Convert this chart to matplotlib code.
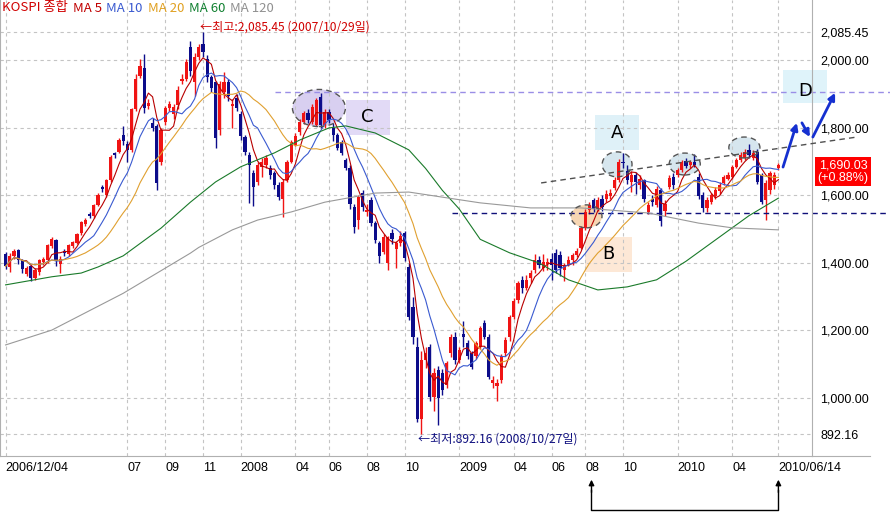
import numpy as np
import pandas as pd
import matplotlib
matplotlib.use('Agg')
import matplotlib.pyplot as plt
from matplotlib.patches import Ellipse, Rectangle

# weekly KOSPI candles, 2006/12/04 .. 2010/06/14
dates = pd.date_range('2006-12-04', periods=185, freq='W-MON')

opens = [1425,1388,1420,1438,1408,1368,1390,1355,1372,1402,
         1408,1450,1468,1398,1434,1425,1450,1458,1488,1515,
         1545,1538,1572,1625,1600,1645,1725,1730,1780,1752,
         1735,1855,1955,1978,1866,1815,1805,1700,1818,1858,
         1840,1868,1938,1945,2040,1935,2010,2050,2005,1950,
         1935,1795,1905,1935,1865,1889,1840,1773,1720,1667,
         1640,1685,1690,1680,1665,1630,1590,1646,1699,1750,
         1788,1818,1845,1818,1810,1892,1809,1847,1800,1779,
         1758,1705,1681,1565,1527,1607,1550,1587,1518,1459,
         1432,1400,1490,1440,1458,1488,1389,1270,1150,938,
         1113,1152,1004,1083,1073,1039,1133,1182,1113,1190,
         1162,1133,1123,1152,1221,1182,1044,1034,1054,1133,
         1182,1241,1290,1350,1325,1355,1380,1409,1385,1398,
         1412,1429,1424,1380,1395,1409,1424,1444,1503,1557,
         1586,1560,1590,1590,1598,1622,1646,1700,1672,1640,
         1660,1630,1646,1552,1590,1572,1617,1555,1626,1655,
         1661,1675,1702,1690,1700,1656,1601,1562,1580,1597,
         1612,1636,1650,1656,1685,1705,1712,1735,1712,1730,
         1661,1587,1617,1630,1680]
highs = [1432,1428,1442,1440,1412,1392,1395,1386,1412,1418,
         1456,1478,1472,1420,1440,1456,1466,1490,1524,1534,
         1550,1576,1606,1630,1650,1720,1730,1770,1805,1760,
         1860,1960,2005,2020,1885,1830,1812,1800,1866,1880,
         1870,1925,1960,2005,2058,2022,2050,2085.45,2015,1958,
         1940,1940,1965,1945,1885,1900,1850,1780,1730,1675,
         1700,1710,1720,1690,1672,1640,1648,1705,1765,1785,
         1825,1850,1855,1870,1890,1904,1855,1855,1815,1785,
         1765,1712,1690,1575,1600,1615,1575,1595,1525,1465,
         1485,1480,1500,1465,1495,1495,1400,1300,1180,1140,
         1150,1160,1090,1095,1085,1110,1190,1195,1152,1228,
         1172,1140,1170,1212,1230,1190,1065,1055,1130,1180,
         1245,1295,1345,1360,1365,1380,1425,1420,1425,1415,
         1430,1440,1435,1400,1420,1430,1445,1508,1560,1580,
         1592,1595,1600,1615,1620,1655,1708,1725,1690,1672,
         1668,1660,1650,1580,1600,1628,1622,1585,1660,1665,
         1682,1705,1712,1705,1722,1665,1610,1595,1606,1625,
         1640,1662,1668,1690,1712,1728,1738,1752,1735,1738,
         1665,1645,1672,1670,1695]
lows = [1382,1372,1412,1398,1370,1360,1345,1348,1365,1395,
        1400,1444,1390,1370,1420,1420,1445,1455,1484,1510,
        1532,1534,1568,1610,1594,1640,1710,1725,1750,1700,
        1728,1850,1948,1845,1855,1790,1615,1690,1810,1850,
        1825,1855,1930,1940,1955,1895,2000,2010,1935,1905,
        1741,1780,1890,1880,1800,1850,1765,1720,1578,1568,
        1630,1655,1680,1650,1620,1585,1535,1640,1695,1745,
        1780,1812,1815,1812,1805,1800,1800,1815,1760,1735,
        1720,1675,1560,1489,1500,1555,1540,1510,1460,1400,
        1425,1380,1455,1385,1450,1405,1230,1160,930,892.16,
        1090,990,960,919,1010,1030,1120,1100,1105,1150,
        1115,1085,1115,1145,1175,1055,1030,992,1045,1125,
        1170,1235,1280,1310,1320,1340,1370,1385,1375,1380,
        1350,1370,1360,1345,1390,1395,1418,1440,1498,1545,
        1550,1555,1555,1580,1590,1615,1640,1680,1635,1610,
        1605,1620,1580,1545,1570,1565,1510,1540,1620,1620,
        1655,1668,1680,1682,1685,1590,1552,1550,1575,1590,
        1605,1630,1645,1650,1680,1700,1705,1712,1705,1635,
        1575,1528,1605,1620,1675]
closes = [1390,1420,1436,1408,1383,1385,1355,1380,1408,1412,
          1452,1470,1405,1412,1430,1452,1462,1485,1520,1528,
          1540,1572,1600,1618,1645,1715,1720,1765,1760,1735,
          1855,1945,1982,1860,1874,1800,1638,1795,1860,1872,
          1862,1912,1945,1995,1968,2010,2040,2025,1950,1918,
          1770,1930,1935,1895,1872,1859,1775,1729,1690,1625,
          1690,1700,1712,1660,1630,1595,1640,1699,1758,1775,
          1818,1844,1822,1862,1883,1809,1847,1823,1779,1741,
          1726,1681,1575,1505,1596,1566,1558,1518,1468,1420,
          1477,1477,1470,1458,1480,1414,1241,1180,938,1113,
          1133,1004,1073,1000,1024,1103,1182,1113,1143,1182,
          1123,1093,1162,1206,1182,1063,1054,1044,1123,1172,
          1241,1286,1340,1325,1350,1370,1409,1395,1404,1402,
          1395,1380,1385,1395,1409,1424,1434,1503,1552,1572,
          1560,1586,1565,1605,1606,1646,1700,1695,1645,1660,
          1640,1650,1590,1572,1580,1620,1525,1575,1651,1630,
          1675,1700,1688,1698,1690,1597,1562,1586,1600,1617,
          1631,1656,1660,1685,1705,1720,1730,1720,1725,1641,
          1582,1636,1666,1660,1690.03]

# long averages (week index, value)
ma60_weeks = [0, 11, 18, 22, 28, 37, 44, 50, 56, 64, 70, 77, 81, 88, 96, 100, 104, 108,
              113, 120, 127, 134, 141, 148, 155, 162, 170, 177, 184]
ma60_vals = [1335, 1359, 1370, 1388, 1421, 1503, 1580, 1640, 1685, 1726, 1764, 1800, 1806,
             1785, 1735, 1680, 1615, 1560, 1470, 1430, 1400, 1350, 1320, 1329, 1350, 1405,
             1477, 1540, 1592]
ma120_weeks = [0, 11, 28, 44, 46, 54, 60, 68, 76, 88, 96, 105, 113, 125, 137, 153, 165, 173, 184]
ma120_vals = [1157, 1201, 1310, 1429, 1446, 1498, 1527, 1551, 1580, 1607, 1610, 1593, 1578,
              1563, 1563, 1548, 1518, 1504, 1498]

ytick_vals = [892.16, 1000, 1200, 1400, 1600, 1800, 2000, 2085.45]
month_ticks = [('07', '2007-07-01'), ('09', '2007-09-01'), ('11', '2007-11-01'),
               ('2008', '2008-01-01'), ('04', '2008-04-01'), ('06', '2008-06-01'),
               ('08', '2008-08-01'), ('10', '2008-10-01'), ('2009', '2009-01-01'),
               ('04', '2009-04-01'), ('06', '2009-06-01'), ('08', '2009-08-01'),
               ('10', '2009-10-01'), ('2010', '2010-01-01'), ('04', '2010-04-01')]

NUM_FONT = ['Liberation Sans', 'DejaVu Sans']
KR_FONT = ['Noto Sans CJK KR', 'DejaVu Sans']

o = np.array(opens, float)
h = np.array(highs, float)
l = np.array(lows, float)
c = np.array(closes, float)
x = np.arange(len(c))

s = pd.Series(c)
ma5 = s.rolling(5, min_periods=1).mean()
ma10 = s.rolling(10, min_periods=1).mean()
ma20 = s.rolling(20, min_periods=1).mean()

fig = plt.figure(figsize=(8.9, 5.16), dpi=100)
ax = fig.add_axes([0, 60 / 516, 812 / 890, 456 / 516])

col = np.where(c >= o, '#f01414', '#0c0c8a')
ax.vlines(x, l, h, colors=col, lw=1, zorder=2)
ax.bar(x, np.maximum(np.abs(c - o), 2.5), bottom=np.minimum(o, c), width=0.8,
       color=col, linewidth=0, zorder=2)

ax.plot(x, ma5, color='#b80000', lw=0.8, zorder=3)
ax.plot(x, ma10, color='#3a5ad0', lw=0.8, zorder=3)
ax.plot(x, ma20, color='#e0a030', lw=0.8, zorder=3)
ax.plot(ma60_weeks, ma60_vals, color='#1a7a2a', lw=0.8, zorder=3)
ax.plot(ma120_weeks, ma120_vals, color='#999999', lw=0.8, zorder=3)

ax.set_xlim(-1.33, 192)
ax.set_ylim(828, 2179)

# axes / ticks
tick_pos = [0] + [int(np.searchsorted(dates, pd.Timestamp(d), side='right') - 1)
                  for _, d in month_ticks] + [len(c) - 1]
tick_lab = ['2006/12/04'] + [t for t, _ in month_ticks] + ['2010/06/14']
ax.set_xticks(tick_pos)
ax.set_xticklabels(tick_lab, fontfamily=NUM_FONT, fontsize=9)
for lb in ax.get_xticklabels():
    lb.set_ha('left')
ax.tick_params(axis='x', length=0, pad=4)

ax.yaxis.tick_right()
ax.set_yticks(ytick_vals)
ax.set_yticklabels([f'{v:,.2f}' for v in ytick_vals], fontfamily=NUM_FONT, fontsize=9)
ax.tick_params(axis='y', length=0, pad=6)

ax.grid(True, ls=(0, (3, 3)), color='#c4c4c4', lw=0.8, zorder=0)
ax.spines['top'].set_visible(False)
for sp in ['left', 'right', 'bottom']:
    ax.spines[sp].set_color('#b0b0b0')
ax.plot([192, 205.8], [828, 828], color='#b0b0b0', lw=0.8, clip_on=False)

# legend text
t = ax.text(2 / 812, 1 - 8 / 456, 'KOSPI 종합', color='#d00000', transform=ax.transAxes,
            va='center', ha='left', fontsize=9.5, fontfamily=KR_FONT)
for txt, cc in [('MA 5', '#c00000'), ('MA 10', '#3a5ad0'), ('MA 20', '#e0a020'),
                ('MA 60', '#108030'), ('MA 120', '#909090')]:
    t = ax.annotate(txt, xy=(1, 0.5), xycoords=t, xytext=(3.5, 0), textcoords='offset points',
                    va='center', ha='left', color=cc, fontsize=9.5, fontfamily=KR_FONT)

# high / low marks
i_hi = int(np.argmax(h))
i_lo = int(np.argmin(l))
ax.text(i_hi - 0.7, h[i_hi] + 14, f'←최고:{h[i_hi]:,.2f} ({dates[i_hi]:%Y/%m/%d}일)',
        color='#d00000', fontsize=8.7, fontfamily=KR_FONT, va='center', ha='left')
ax.text(i_lo - 0.7, l[i_lo] - 13, f'←최저:{l[i_lo]:,.2f} ({dates[i_lo]:%Y/%m/%d}일)',
        color='#101080', fontsize=8.7, fontfamily=KR_FONT, va='center', ha='left')

# last price box
ax.text(199.4, 1671, f'{c[-1]:,.2f}\n(+0.88%)', color='white', ha='center', va='center',
        fontsize=9, fontfamily=NUM_FONT, linespacing=1.05,
        bbox=dict(fc='#ff0000', ec='none', pad=1.5), clip_on=False)

# pattern marks
ax.add_patch(Rectangle((81, 1779), 10.5, 104, fc='#e2daf6', ec='none', zorder=0.5))
ax.text(86.2, 1831, 'C', fontsize=13, ha='center', va='center', zorder=4)
ax.add_patch(Rectangle((140.3, 1735), 10.5, 103, fc='#dff1f8', ec='none', zorder=0.5))
ax.text(145.5, 1786, 'A', fontsize=13, ha='center', va='center', zorder=4)
ax.add_patch(Rectangle((138, 1373), 11.1, 104, fc='#fde8d6', ec='none', zorder=0.5))
ax.text(143.5, 1425, 'B', fontsize=13, ha='center', va='center', zorder=4)
ax.add_patch(Rectangle((185.1, 1874), 10.5, 98, fc='#dff3fa', ec='none', zorder=0.5,
                       clip_on=False))
ax.text(190.3, 1910, 'D', fontsize=13, ha='center', va='center', zorder=4, clip_on=False)

for (cx, cy, w, hh, fc) in [(74.6, 1859, 12.6, 110, '#d8cff0'),
                            (145.6, 1692, 7.1, 74, '#d6e6ee'),
                            (161.7, 1693, 7.4, 65, '#d6e6ee'),
                            (175.9, 1742, 7.4, 62, '#d6e6ee'),
                            (138.3, 1538, 7.4, 68, '#f7d6b3')]:
    ax.add_patch(Ellipse((cx, cy), w, hh, fc=fc, ec='none', zorder=1))
    ax.add_patch(Ellipse((cx, cy), w, hh, fill=False, ec='#555555', ls=(0, (4, 3)),
                         lw=1, zorder=3.5))

ax.plot([64.1, 210.6], [1907, 1907], color='#9a8ee6', lw=1, ls=(0, (4, 3)), clip_on=False)
ax.plot([106.3, 210.6], [1548, 1548], color='#10107a', lw=1, ls=(0, (4, 3)), clip_on=False)
ax.plot([127.5, 202.7], [1637, 1773], color='#505050', lw=1, ls=(0, (4, 3)), clip_on=False,
        zorder=3.6)

for st, en in [((185.1, 1684), (188.4, 1815)), ((189.6, 1815), (191.5, 1773)),
               ((192.2, 1773), (197.5, 1904))]:
    ax.annotate('', xy=en, xytext=st, annotation_clip=False,
                arrowprops=dict(arrowstyle='-|>', color='#1530d0', lw=2, mutation_scale=10,
                                shrinkA=0, shrinkB=0))

# bracket under the axis
xa = tick_pos[12] + 1.5
xb = tick_pos[-1]
tr = ax.get_xaxis_transform()
ax.plot([xa, xa, xb, xb], [-0.075, -0.118, -0.118, -0.075], color='black', lw=1,
        transform=tr, clip_on=False)
for xx in (xa, xb):
    ax.annotate('', xy=(xx, -0.052), xytext=(xx, -0.08), xycoords=tr, textcoords=tr,
                annotation_clip=False,
                arrowprops=dict(arrowstyle='-|>', color='black', lw=1, mutation_scale=8,
                                shrinkA=0, shrinkB=0))

fig.savefig('out.png', dpi=100)
